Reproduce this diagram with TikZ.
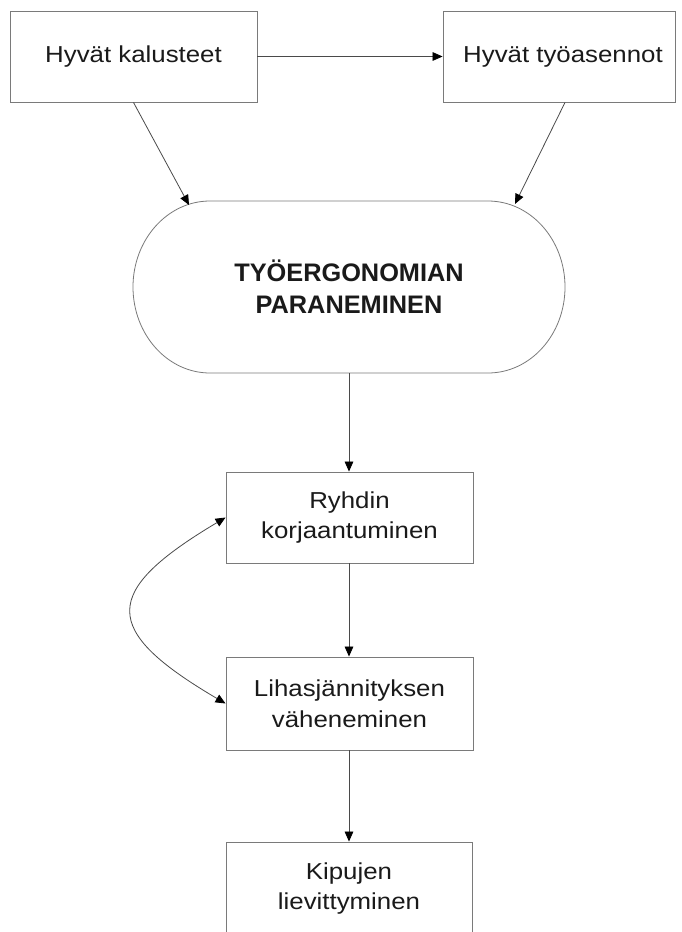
\documentclass[tikz,border=0pt]{standalone}
\usepackage{fontspec}
\setmainfont{Liberation Sans}[FakeStretch=1.12]
\newfontfamily\ergfont{Liberation Sans}
\usetikzlibrary{arrows.meta}
\definecolor{txt}{HTML}{1A1A1A}
\definecolor{edge}{HTML}{7A7A7A}
\definecolor{conn}{HTML}{4A4A4A}
\begin{document}
\begin{tikzpicture}[x=0.75pt,y=-0.75pt,
  tip/.style={Triangle[length=7.5pt,width=6.5pt,color=black]},
  box/.style={draw=edge,line width=0.7pt,inner sep=0pt,align=center,text=txt,
    font=\fontsize{17.3pt}{23pt}\selectfont},
  conn/.style={draw=conn,line width=0.6pt,-{Triangle[length=7.5pt,width=6.5pt,color=black]}},
  conn2/.style={draw=conn,line width=0.6pt,{Triangle[length=7.5pt,width=6.5pt,color=black]}-{Triangle[length=7.5pt,width=6.5pt,color=black]}}]
\useasboundingbox (0,0) rectangle (682,932);
\clip (0,0) rectangle (682,932);
\fill[white] (0,0) rectangle (682,932);
% boxes
\node[box,minimum width={247*0.75pt},minimum height={91*0.75pt}] (b1) at (133.5,56.5) {Hyvät kalusteet};
\node[box,minimum width={232*0.75pt},minimum height={91*0.75pt}] (b2) at (559,56.5) {\hspace*{6pt}Hyvät työasennot};
\node[box,minimum width={247*0.75pt},minimum height={91*0.75pt}] (b3) at (349.5,517.5) {Ryhdin\\korjaantuminen};
\node[box,minimum width={247*0.75pt},minimum height={93*0.75pt}] (b4) at (349.5,703.5) {Lihasjännityksen\\väheneminen};
\node[box,minimum width={246*0.75pt},minimum height={93*0.75pt}] (b5) at (349,888.5) {Kipujen\\lievittyminen};
% stadium
\node[inner sep=0pt,minimum width={432*0.75pt},minimum height={172*0.75pt},align=center,text=txt,
  font=\ergfont\bfseries\fontsize{19pt}{24pt}\selectfont] (erg) at (349,287) {TYÖERGONOMIAN\\PARANEMINEN};
\draw[edge,line width=0.6pt] (210,201) -- (488,201)
  arc[start angle=90,end angle=-90,x radius=57.75pt,y radius=64.5pt]
  -- (210,373)
  arc[start angle=270,end angle=90,x radius=57.75pt,y radius=64.5pt] -- cycle;
\coordinate (t1) at (189,205);
\coordinate (t2) at (515,204);
% connectors
\draw[conn] (b1) -- (b2);
\draw[conn] (b1.south) -- (t1);
\draw[conn] ([xshift=4.5pt]b2.south) -- (t2);
\draw[conn] (erg.south) -- (erg.south |- b3.north);
\draw[conn] (b3.south -| erg.south) -- (erg.south |- b4.north);
\draw[conn] (b4.south -| erg.south) -- (erg.south |- b5.north);
\draw[conn2] (b3.west) .. controls +(-125,74.5) and +(-125,-73.5) .. (b4.west);
\end{tikzpicture}
\end{document}
